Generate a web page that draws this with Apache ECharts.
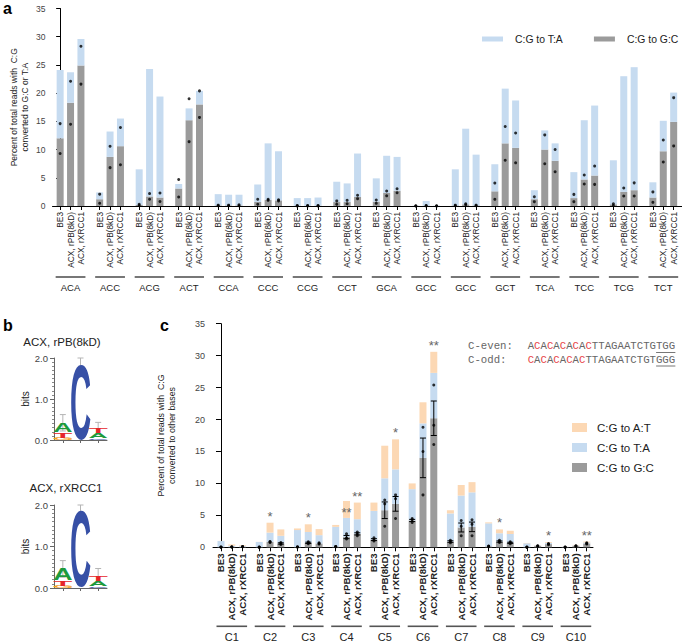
<!DOCTYPE html>
<html><head><meta charset="utf-8">
<script src="https://cdn.jsdelivr.net/npm/echarts@6/dist/echarts.min.js"></script>
<style>html,body{margin:0;padding:0;background:#fff}#c{width:682px;height:644px}</style>
</head><body><div id="c"></div>
<script>
// ================= DATA =================
// ---- panel a ----
const contextsA = ['ACA','ACC','ACG','ACT','CCA','CCC','CCG','CCT','GCA','GCC','GCC','GCT','TCA','TCC','TCG','TCT'];
const conditions = ['BE3','ACX, rPB(8kD)','ACX, rXRCC1'];
const yTicksA = [0,5,10,15,20,25,30,35];
// C:G to G:C (mean), order: context x condition
const aGC = [12.0,18.3,24.9, 1.2,8.7,10.6, 0.2,1.7,1.5, 3.1,15.2,18.0, 0.1,0.1,0.1, 0.7,1.1,1.0,
  0.05,0.05,0.05, 0.7,0.7,1.6, 0.77,2.3,2.7, 0.02,0.05,0.02, 0.1,0.3,0.1, 2.6,11.1,10.3,
  1.2,10.0,8.0, 1.4,4.7,5.4, 0.3,2.5,2.8, 1.5,9.7,14.9];
// C:G to T:A (segment stacked on top)
const aTA = [12.1,5.4,4.7, 1.2,4.5,4.9, 6.3,22.6,17.9, 0.8,2.1,2.4, 2.0,1.9,1.9, 3.1,10.0,8.7,
  1.35,1.35,1.45, 3.6,3.3,7.7, 4.13,6.6,6.0, 0.03,0.85,0.03, 6.4,13.4,9.0, 4.8,9.7,8.4,
  1.6,3.4,3.1, 4.6,10.5,12.4, 7.8,20.5,21.8, 2.7,5.4,5.2];
// replicate values of C:G to G:C
const aRep1 = [14.6,22.1,28.3, 2.1,10.6,13.9, 0.3,2.2,2.3, 4.7,19.0,20.4, 0.15,0.15,0.2, 1.2,1.2,1.1,
  0.1,0.1,0.1, 0.9,1.0,1.9, 1.06,2.65,3.06, 0.03,0.08,0.03, 0.15,0.4,0.15, 4.06,14.1,12.95,
  1.65,12.6,10.0, 2.06,5.5,7.07, 0.4,3.2,4.1, 2.5,11.7,19.2];
const aRep2 = [9.3,14.5,21.6, 0.5,6.8,7.3, 0.1,1.2,0.8, 1.6,11.4,15.7, 0.05,0.05,0.05, 0.3,1.0,0.9,
  0.02,0.02,0.02, 0.3,0.4,1.3, 0.47,1.8,2.36, 0.01,0.02,0.01, 0.05,0.2,0.05, 1.18,8.1,7.65,
  0.77,7.5,6.06, 0.77,3.9,3.83, 0.1,1.77,1.77, 0.65,7.8,10.65];

// ---- panel c ----
const positionsC = ['C1','C2','C3','C4','C5','C6','C7','C8','C9','C10'];
const yTicksC = [0,5,10,15,20,25,30,35];
const cGC = [0.02,0.05,0.1, 0.02,0.85,0.6, 0.05,0.7,0.6, 0.1,1.6,2.1, 1.2,5.8,6.8,
  4.2,14.0,20.2, 0.9,3.1,3.2, 0.15,0.9,0.7, 0.02,0.2,0.5, 0.02,0.2,0.6];
const cTA = [0.96,0.2,0.1, 0.81,1.45,1.2, 2.65,1.7,1.3, 3.1,3.0,2.3, 4.5,5.0,5.4,
  4.9,5.4,7.1, 4.4,5.0,5.4, 3.6,1.3,1.4, 0.61,0.1,0.2, 0.06,0.1,0.15];
const cAT = [0.02,0.2,0.1, 0.02,1.55,1.0, 0.25,1.2,0.95, 0.3,2.65,2.6, 1.3,5.1,4.7,
  0.9,3.3,3.3, 0.5,1.65,1.6, 0.15,0.6,0.5, 0.05,0.05,0.13, 0.02,0.08,0.15];
const cRep1 = [0.02,0.03,0.08, 0.01,0.75,0.45, 0.04,0.55,0.5, 0.08,1.3,1.8, 1.0,3.3,4.5,
  3.9,8.2,16.1, 0.7,1.8,1.8, 0.1,0.75,0.55, 0.01,0.15,0.4, 0.01,0.15,0.5];
const cRep2 = [0.02,0.05,0.1, 0.02,0.85,0.6, 0.05,0.7,0.6, 0.1,1.5,2.1, 1.2,6.8,7.6,
  4.3,15.0,19.1, 0.9,3.3,3.6, 0.15,0.9,0.7, 0.02,0.2,0.5, 0.02,0.2,0.6];
const cRep3 = [0.03,0.07,0.12, 0.03,0.9,0.75, 0.06,0.85,0.7, 0.12,2.1,2.4, 1.5,7.4,8.2,
  4.5,18.8,25.4, 1.1,4.2,4.3, 0.2,1.1,0.85, 0.03,0.25,0.6, 0.03,0.25,0.7];
const cErr = [0,0,0, 0,0.05,0.1, 0,0.1,0.06, 0,0.25,0.17, 0.15,1.3,1.15,
  0.17,3.1,2.7, 0.12,0.7,0.75, 0.03,0.1,0.09, 0,0.03,0.06, 0,0.03,0.06];
const cStars = ['','','', '','*','', '','*','', '','**','**', '','','*',
  '','','**', '','','', '','*','', '','','*', '','','**'];

// ---- panel b (sequence logos): per position, letters bottom->top with heights in bits ----
const logoTitles = ['ACX, rPB(8kD)','ACX, rXRCC1'];
const logo1 = [[['G',0.05],['T',0.13],['A',0.24]], [['C',1.85]], [['C',0.04],['A',0.12],['T',0.12]]];
const logo1Err = [0.2, 0.15, 0.15];
const logo2 = [[['G',0.05],['T',0.14],['A',0.27]], [['C',1.85]], [['C',0.04],['A',0.12],['T',0.14]]];
const logo2Err = [0.2, 0.15, 0.17];

// ---- sequences ----
const seqEven = 'ACACACACACTTAGAATCTGTGG';
const seqOdd  = 'CACACACACTTAGAATCTGTGGG';

// ================= STYLE / LAYOUT =================
const C_TA='#c6dbf0', C_GC='#9b9b9b', C_AT='#fcd8b4';
const FONT='Liberation Sans';
const STRIDE_A = 3.8, STRIDE_C = 3.54;
const rnd = v => Math.round(v*1000)/1000;
const pos = (stride,g,k) => rnd(g*stride + k);

const posA=[], labA={};
contextsA.forEach((c,g)=>conditions.forEach((cd,k)=>{const p=pos(STRIDE_A,g,k); posA.push(p); labA[p]=cd;}));
const midA = contextsA.map((c,g)=>pos(STRIDE_A,g,1));
const grpA = {}; contextsA.forEach((c,g)=>grpA[midA[g]]=c);

const posC=[], labC={};
positionsC.forEach((c,g)=>conditions.forEach((cd,k)=>{const p=pos(STRIDE_C,g,k); posC.push(p); labC[p]=cd;}));
const midC = positionsC.map((c,g)=>pos(STRIDE_C,g,1));
const grpC = {}; positionsC.forEach((c,g)=>grpC[midC[g]]=c);

const chart = echarts.init(document.getElementById('c'), null, {renderer:'svg', width:682, height:644});

function underline(params, api){
  const a = api.coord([api.value(0),0]), b = api.coord([api.value(1),0]);
  const off = params.seriesName==='ulA' ? 71 : 79;
  return {type:'line', shape:{x1:a[0]-4.5, y1:a[1]+off, x2:b[0]+4.5, y2:a[1]+off},
    style:{stroke:'#555', lineWidth:1.6}};
}
function errBar(params, api){
  const x = api.value(0), lo = api.value(1), hi = api.value(2);
  const a = api.coord([x,lo]), b = api.coord([x,hi]);
  if (a[1]-b[1] < 1) return;
  const isLogo = params.seriesName.indexOf('logo')===0;
  const col = isLogo ? '#b5b5b5' : '#000';
  const cw = 3;
  return {type:'group', children:[
    {type:'line', shape:{x1:a[0],y1:a[1],x2:b[0],y2:b[1]}, style:{stroke:col,lineWidth:1}},
    {type:'line', shape:{x1:a[0]-cw,y1:a[1],x2:a[0]+cw,y2:a[1]}, style:{stroke:col,lineWidth:1}},
    {type:'line', shape:{x1:b[0]-cw,y1:b[1],x2:b[0]+cw,y2:b[1]}, style:{stroke:col,lineWidth:1}}
  ]};
}
const LCOL = {A:'#1d9a3c', C:'#3750a6', G:'#f5a21f', T:'#e52629'};
const LINK = {A:0.70, C:0.64, G:0.68, T:0.60};
const LETTERS = ['A','C','G','T'];
function letter(params, api){
  const p = api.value(0), y0 = api.value(1), y1 = api.value(2), L = LETTERS[api.value(3)];
  const a = api.coord([p-0.53, y0]), b = api.coord([p+0.53, y1]);
  const w = b[0]-a[0], h = a[1]-b[1];
  if (h < 0.5) return;
  const F = 100;
  return {type:'text', x:(a[0]+b[0])/2, y:(a[1]+b[1])/2,
    scaleX: w/(LINK[L]*F), scaleY: h/(0.716*F),
    style:{text:L, fontSize:F, fontWeight:'bold', fontFamily:FONT, fill:LCOL[L],
      align:'center', verticalAlign:'middle', textAlign:'center', textVerticalAlign:'middle'}};
}
function logoData(logo){
  const out=[];
  logo.forEach((stack,i)=>{ let y=0; stack.forEach(([L,hgt])=>{ out.push([i+1, y, y+hgt, LETTERS.indexOf(L)]); y+=hgt; }); });
  return out;
}
function logoErr(logo, err){
  return logo.map((stack,i)=>{ const t = stack.reduce((s,d)=>s+d[1],0); return [i+1, t-err[i], t+err[i]]; });
}

const axisLineBlack = {show:true, lineStyle:{color:'#000', width:1}};
function xBars(grid, min, max, posList, labMap, fs, bold){
  return {type:'value', gridIndex:grid, min, max, splitLine:{show:false},
    axisLine:axisLineBlack,
    axisTick:{show:true, customValues:posList, length:4, lineStyle:{color:'#000'}},
    axisLabel:{customValues:posList, rotate:90, fontSize:fs, fontWeight:bold?'bold':'normal', color:'#222', fontFamily:FONT, margin:6,
      formatter:v=>labMap[rnd(v)]||''}};
}
function xGroups(grid, min, max, mids, grpMap, fs, off){
  return {type:'value', gridIndex:grid, min, max, position:'bottom', offset:off, splitLine:{show:false},
    axisLine:{show:false}, axisTick:{show:false},
    axisLabel:{customValues:mids, fontSize:fs, color:'#222', fontFamily:FONT, margin:0,
      formatter:v=>grpMap[rnd(v)]||''}};
}
function xLogo(grid){
  return {type:'value', gridIndex:grid, min:0.5, max:3.5, splitLine:{show:false},
    axisLine:{show:true, lineStyle:{color:'#666'}}, axisTick:{show:true, customValues:[1,2,3], length:3, lineStyle:{color:'#666'}},
    axisLabel:{show:false}};
}
function yLogo(grid){
  return {type:'value', gridIndex:grid, min:0, max:2, interval:1, splitLine:{show:false},
    axisLine:{show:true, lineStyle:{color:'#666'}}, axisTick:{show:true, length:4, lineStyle:{color:'#666'}},
    minorTick:{show:true, splitNumber:10, length:2, lineStyle:{color:'#888'}},
    axisLabel:{fontSize:9.5, color:'#444', fontFamily:FONT, margin:6, formatter:v=>v.toFixed(1)},
    name:'bits', nameLocation:'middle', nameGap:22, nameTextStyle:{fontSize:10, color:'#222', fontFamily:FONT}};
}
// bar data as [value, position] so the value dimension is the stacked one
const barData = (vals, posList) => vals.map((v,i)=>[v, posList[i]]);
const barEnc = {x:1, y:0};

const minA = -0.735, maxA = 59.8, minC = -0.74, maxC = 34.44;

function richSeq(s){
  return s.split('').map((ch,i)=> (ch==='C' && i<10) ? '{r|C}' : '{k|'+ch+'}').join('');
}
const monoRich = {k:{fill:'#666', fontFamily:'Liberation Mono', fontSize:10.7}, r:{fill:'#e8474a', fontFamily:'Liberation Mono', fontSize:10.7}};
const CW = 6.42;

const option = {
  animation:false,
  textStyle:{fontFamily:FONT},
  grid:[
    {left:48, top:8.5, width:634, height:197.5},
    {left:213, top:323.7, width:380, height:223.6},
    {left:54, top:358, width:53, height:82},
    {left:54, top:505, width:53, height:83}
  ],
  xAxis:[
    xBars(0, minA, maxA, posA, labA, 8.3, false),
    xGroups(0, minA, maxA, midA, grpA, 9.5, 76),
    xBars(1, minC, maxC, posC, labC, 9.7, true),
    xGroups(1, minC, maxC, midC, grpC, 11, 84),
    xLogo(2), xLogo(3)
  ],
  yAxis:[
    {type:'value', gridIndex:0, min:0, max:35, interval:5, splitLine:{show:false}, axisLine:axisLineBlack,
      axisTick:{show:true, length:4, lineStyle:{color:'#000'}},
      axisLabel:{fontSize:8.5, color:'#444', fontFamily:FONT, margin:7, customValues:yTicksA},
      name:'Percent of total reads with  C:G\nconverted to G:C or T:A', nameLocation:'middle', nameGap:22.5, nameMoveOverlap:false,
      nameTextStyle:{fontSize:8.5, color:'#222', lineHeight:11, fontFamily:FONT}},
    {type:'value', gridIndex:1, min:0, max:35, interval:5, splitLine:{show:false}, axisLine:axisLineBlack,
      axisTick:{show:true, length:5, lineStyle:{color:'#000'}},
      axisLabel:{fontSize:9, color:'#444', fontFamily:FONT, margin:8, customValues:yTicksC},
      name:'Percent of total reads with  C:G\nconverted to other bases', nameLocation:'middle', nameGap:35.5, nameMoveOverlap:false,
      nameTextStyle:{fontSize:8.8, color:'#222', lineHeight:11, fontFamily:FONT}},
    yLogo(2), yLogo(3)
  ],
  legend:[
    {data:['C:G to T:A','C:G to G:C'], left:482, top:34, padding:0, icon:'rect', itemWidth:21, itemHeight:5, itemGap:31,
      textStyle:{fontSize:10.4, color:'#222', fontFamily:FONT, padding:[0,0,0,7]}, selectedMode:false},
    {data:['C:G to A:T','C:G to T:A','C:G to G:C'], orient:'vertical', left:572, top:421.5, padding:0, icon:'rect',
      itemWidth:15, itemHeight:9, itemGap:8, textStyle:{fontSize:11.5, color:'#222', fontFamily:FONT, padding:[0,0,0,5]}, selectedMode:false}
  ],
  graphic:[
    {type:'text', x:3, y:0, style:{text:'a', font:'bold 16px Liberation Sans', fill:'#000', verticalAlign:'top'}},
    {type:'text', x:3, y:317, style:{text:'b', font:'bold 16px Liberation Sans', fill:'#000', verticalAlign:'top'}},
    {type:'text', x:160, y:317, style:{text:'c', font:'bold 16px Liberation Sans', fill:'#000', verticalAlign:'top'}},
    {type:'text', x:62, y:342, style:{text:logoTitles[0], font:'11.5px Liberation Sans', fill:'#222', align:'center', verticalAlign:'middle'}},
    {type:'text', x:66, y:488, style:{text:logoTitles[1], font:'11.5px Liberation Sans', fill:'#222', align:'center', verticalAlign:'middle'}},
    {type:'text', x:468, y:346, style:{text:'{k|C-even:}', rich:monoRich, verticalAlign:'middle'}},
    {type:'text', x:468, y:359.5, style:{text:'{k|C-odd:}', rich:monoRich, verticalAlign:'middle'}},
    {type:'text', x:527.7, y:346, style:{text:richSeq(seqEven), rich:monoRich, verticalAlign:'middle'}},
    {type:'text', x:527.7, y:359.5, style:{text:richSeq(seqOdd), rich:monoRich, verticalAlign:'middle'}},
    {type:'line', shape:{x1:527.7+20*CW, y1:352.5, x2:527.7+23*CW, y2:352.5}, style:{stroke:'#777', lineWidth:1}},
    {type:'line', shape:{x1:527.7+20*CW, y1:366, x2:527.7+23*CW, y2:366}, style:{stroke:'#777', lineWidth:1}}
  ],
  series:[
    // panel a
    {type:'bar', name:'C:G to G:C', xAxisIndex:0, yAxisIndex:0, stack:'a', barWidth:7, itemStyle:{color:C_GC},
      encode:barEnc, data:barData(aGC, posA)},
    {type:'bar', name:'C:G to T:A', xAxisIndex:0, yAxisIndex:0, stack:'a', barWidth:7, itemStyle:{color:C_TA},
      encode:barEnc, data:barData(aTA, posA)},
    {type:'scatter', name:'repA', xAxisIndex:0, yAxisIndex:0, symbolSize:3, itemStyle:{color:'#000'}, z:5,
      data:aRep1.map((v,i)=>[posA[i],v]).concat(aRep2.map((v,i)=>[posA[i],v]))},
    {type:'custom', name:'ulA', xAxisIndex:0, yAxisIndex:0, clip:false, renderItem:underline,
      encode:{x:[0,1], y:2}, data:contextsA.map((c,g)=>[pos(STRIDE_A,g,0), pos(STRIDE_A,g,2), 0])},
    // panel c
    {type:'bar', name:'C:G to G:C', xAxisIndex:2, yAxisIndex:1, stack:'c', barWidth:7, itemStyle:{color:C_GC},
      encode:barEnc, data:barData(cGC, posC)},
    {type:'bar', name:'C:G to T:A', xAxisIndex:2, yAxisIndex:1, stack:'c', barWidth:7, itemStyle:{color:C_TA},
      encode:barEnc, data:barData(cTA, posC)},
    {type:'bar', name:'C:G to A:T', xAxisIndex:2, yAxisIndex:1, stack:'c', barWidth:7, itemStyle:{color:C_AT},
      encode:barEnc,
      label:{show:false, position:'top', distance:0, fontSize:13, color:'#666', fontFamily:FONT},
      data:cAT.map((v,i)=>{
        if(!cStars[i]) return [v, posC[i]];
        const inside = (i===10);
        return {value:[v, posC[i]], label:{show:true, formatter:cStars[i], position: inside?'insideTop':'top', distance: inside?5:0}};
      })},
    {type:'custom', name:'errC', xAxisIndex:2, yAxisIndex:1, renderItem:errBar, z:6, encode:{x:0, y:[1,2]},
      data:cGC.map((v,i)=>[posC[i], v-cErr[i], v+cErr[i]])},
    {type:'scatter', name:'repC', xAxisIndex:2, yAxisIndex:1, symbolSize:3, itemStyle:{color:'#000'}, z:5,
      data:[cRep1,cRep2,cRep3].flatMap(r=>r.map((v,i)=>[posC[i],v]))},
    {type:'custom', name:'ulC', xAxisIndex:2, yAxisIndex:1, clip:false, renderItem:underline,
      encode:{x:[0,1], y:2}, data:positionsC.map((c,g)=>[pos(STRIDE_C,g,0), pos(STRIDE_C,g,2), 0])},
    // panel b logos
    {type:'custom', name:'logo1', xAxisIndex:4, yAxisIndex:2, clip:false, renderItem:letter, encode:{x:0, y:[1,2]}, data:logoData(logo1)},
    {type:'custom', name:'logo1err', xAxisIndex:4, yAxisIndex:2, clip:false, renderItem:errBar, z:1, encode:{x:0, y:[1,2]}, data:logoErr(logo1, logo1Err)},
    {type:'custom', name:'logo2', xAxisIndex:5, yAxisIndex:3, clip:false, renderItem:letter, encode:{x:0, y:[1,2]}, data:logoData(logo2)},
    {type:'custom', name:'logo2err', xAxisIndex:5, yAxisIndex:3, clip:false, renderItem:errBar, z:1, encode:{x:0, y:[1,2]}, data:logoErr(logo2, logo2Err)}
  ]
};
chart.setOption(option);
</script></body></html>
